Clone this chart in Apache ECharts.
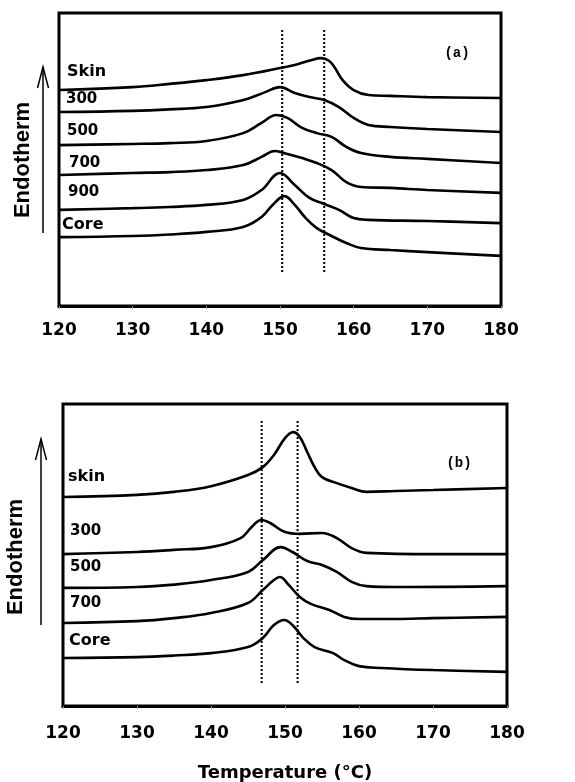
<!DOCTYPE html>
<html>
<head>
<meta charset="utf-8">
<script src="https://cdn.jsdelivr.net/npm/echarts@6/dist/echarts.min.js"></script>
<style>
  html, body { margin: 0; padding: 0; background: #fff; }
  #chart { width: 575px; height: 782px; }
</style>
</head>
<body>
<div id="chart"></div>
<script>
// DSC melting endotherms, skin-to-core profile (vertically offset, arbitrary heat-flow units)
const xTicks = [120, 130, 140, 150, 160, 170, 180];

// Panel (a)
const skinA = [[120,73.7],[130,74.7],[135,75.8],[140,77.1],[145,78.8],[150,81.2],[152.5,82.6],[154.2,83.9],[155.6,84.6],[156.6,83.8],[157.4,81.5],[158.5,77.1],[160,73.7],[162,72.0],[165,71.7],[170,71.3],[180,71.0]];
const a300  = [[120,66.2],[130,66.6],[135,67.1],[140,67.9],[145,70.3],[147,72.0],[148,73.0],[150,74.7],[152,72.7],[154,71.3],[156,70.3],[158,67.9],[160,64.2],[162,61.8],[165,61.1],[170,60.4],[180,59.4]];
const a500  = [[120,54.9],[130,55.3],[135,55.6],[140,56.3],[145,59.0],[147.5,62.5],[149.5,65.2],[151,64.2],[153,60.8],[155,59.0],[157,57.7],[159,54.3],[161,52.2],[165,50.9],[170,50.2],[180,48.8]];
const a700  = [[120,44.7],[130,45.4],[135,45.7],[140,46.4],[145,48.1],[147.5,50.9],[149.3,52.9],[151,51.9],[153,50.5],[155,48.8],[157,46.4],[159,42.3],[161,40.6],[165,40.3],[170,39.6],[180,38.6]];
const a900  = [[120,32.8],[130,33.4],[135,33.8],[140,34.5],[145,36.2],[147.5,39.6],[150,45.4],[152,41.3],[154,36.9],[156,34.8],[158,32.8],[160,30.0],[162,29.4],[170,29.0],[180,28.3]];
const coreA = [[120,23.5],[130,23.9],[135,24.4],[140,25.3],[145,27.0],[147.5,30.4],[149,34.5],[150.6,37.5],[152,34.5],[153.5,30.0],[155,26.6],[157,23.9],[159,21.5],[161,19.8],[165,19.1],[170,18.4],[180,17.1]];
const peaksA = [150.3, 156.0];

// Panel (b)
const skinB = [[120,69.2],[130,69.9],[135,70.9],[140,72.8],[145,76.5],[147,79.1],[148.5,83.1],[150,88.7],[151.1,90.7],[152,89.1],[153,84.1],[154,79.1],[155,75.8],[157,73.8],[159,72.2],[161,70.9],[165,71.2],[170,71.5],[180,72.2]];
const b300  = [[120,50.3],[130,51.0],[135,51.7],[140,52.6],[144,55.6],[145.5,59.3],[146.8,61.6],[148,60.6],[150,57.6],[152,57.0],[155,57.3],[157,55.6],[159,52.3],[161,50.7],[170,50.3],[180,50.3]];
const b500  = [[120,39.1],[130,39.4],[135,40.2],[140,41.7],[145,44.4],[147,48.3],[149.4,52.6],[151,51.0],[153,48.0],[155,46.7],[157,44.4],[159,41.1],[161,39.7],[165,39.4],[180,39.7]];
const b700  = [[120,27.5],[130,28.1],[135,29.1],[140,30.8],[145,34.1],[147,38.4],[148.5,41.7],[149.3,42.7],[150.5,40.1],[152,36.1],[153.5,33.8],[156,31.8],[158,29.5],[160,28.8],[165,28.8],[170,29.1],[180,29.5]];
const coreB = [[120,15.9],[130,16.2],[135,16.7],[140,17.5],[145,19.5],[147,22.5],[148.5,26.8],[149.9,28.5],[151,26.8],[152.5,22.5],[154,19.5],[156.5,17.5],[158,15.2],[160,13.2],[163,12.6],[170,11.9],[180,11.3]];
const peaksB = [146.85, 151.7];

// Extent of the dotted reference lines (same y units)
const guideA = [11.6, 94.5];
const guideB = [7.6, 94.7];

const labelsA = ['Skin', '300', '500', '700', '900', 'Core'];
const labelsB = ['skin', '300', '500', '700', 'Core'];

const curveStyle = { color: '#000', width: 2.6 };

function curve(data, idx) {
  return {
    type: 'line', xAxisIndex: idx, yAxisIndex: idx, data: data,
    smooth: 0.4, symbol: 'none', lineStyle: curveStyle, silent: true, z: 3
  };
}
function guide(x, range, idx) {
  return {
    type: 'line', xAxisIndex: idx, yAxisIndex: idx,
    data: [[x, range[0]], [x, range[1]]],
    symbol: 'none', silent: true, z: 2,
    lineStyle: { color: '#000', width: 2, type: [2, 2] }
  };
}
function xAxisFor(idx, margin) {
  return {
    type: 'value', gridIndex: idx, min: 120, max: 180, interval: 10,
    axisLine: { show: true, onZero: false, lineStyle: { color: '#000', width: 3 } },
    axisTick: { show: true, length: 3, lineStyle: { color: '#999', width: 1 } },
    splitLine: { show: false },
    axisLabel: {
      margin: margin, color: '#000', fontFamily: 'DejaVu Sans', fontWeight: 'bold', fontSize: 17,
      formatter: v => (xTicks.indexOf(v) >= 0 ? String(v) : '')
    }
  };
}
function yAxisFor(idx) {
  return { type: 'value', gridIndex: idx, min: 0, max: 100, show: false };
}

const labelFont = { fontFamily: 'DejaVu Sans', fontWeight: 'bold', fontSize: 15, fill: '#000' };
const posA = [[67,73],[66,101],[67,133],[69,165],[68,194],[62,226]];
const posB = [[68,478],[70,533],[70,569],[70,605],[69,642]];

const graphics = [];
labelsA.forEach((t, i) => graphics.push({
  type: 'text', left: posA[i][0], top: posA[i][1] - 9, z: 10,
  style: Object.assign({ text: t }, labelFont, { fontSize: t.length > 3 ? 16 : 15 })
}));
labelsB.forEach((t, i) => graphics.push({
  type: 'text', left: posB[i][0], top: posB[i][1] - 9, z: 10,
  style: Object.assign({ text: t }, labelFont, { fontSize: t.length > 3 ? 16 : 15 })
}));
graphics.push(
  { type: 'text', x: 457, y: 53, z: 10,
    style: { text: '(a)', fontFamily: 'Liberation Mono', fontWeight: 'bold', fontSize: 14, fill: '#000', align: 'center', verticalAlign: 'middle' } },
  { type: 'text', x: 459, y: 463, z: 10,
    style: { text: '(b)', fontFamily: 'Liberation Mono', fontWeight: 'bold', fontSize: 14, fill: '#000', align: 'center', verticalAlign: 'middle' } },
  // Endotherm labels with upward arrows
  { type: 'text', x: 23, y: 160, rotation: Math.PI / 2, z: 10,
    style: { text: 'Endotherm', fontFamily: 'Liberation Sans', fontWeight: 'bold', fontSize: 22, fill: '#000', align: 'center', verticalAlign: 'middle' } },
  { type: 'text', x: 16, y: 557, rotation: Math.PI / 2, z: 10,
    style: { text: 'Endotherm', fontFamily: 'Liberation Sans', fontWeight: 'bold', fontSize: 22, fill: '#000', align: 'center', verticalAlign: 'middle' } },
  { type: 'line', shape: { x1: 43, y1: 233, x2: 43, y2: 67 }, style: { stroke: '#000', lineWidth: 1.5 } },
  { type: 'polyline', shape: { points: [[37.5, 88], [43, 67], [48.5, 88]] }, style: { stroke: '#000', lineWidth: 1.5, fill: null } },
  { type: 'line', shape: { x1: 41, y1: 625, x2: 41, y2: 439 }, style: { stroke: '#000', lineWidth: 1.5 } },
  { type: 'polyline', shape: { points: [[35.5, 460], [41, 439], [46.5, 460]] }, style: { stroke: '#000', lineWidth: 1.5, fill: null } },
  { type: 'text', x: 285, y: 773, z: 10,
    style: { text: 'Temperature (°C)', fontFamily: 'DejaVu Sans', fontWeight: 'bold', fontSize: 18, fill: '#000', align: 'center', verticalAlign: 'middle' } }
);

const chart = echarts.init(document.getElementById('chart'), null, { renderer: 'canvas' });
chart.setOption({
  animation: false,
  backgroundColor: '#fff',
  grid: [
    { left: 59, top: 13, width: 442, height: 293, show: true, borderColor: '#000', borderWidth: 3, backgroundColor: 'transparent' },
    { left: 63, top: 404, width: 444, height: 302, show: true, borderColor: '#000', borderWidth: 3, backgroundColor: 'transparent' }
  ],
  xAxis: [xAxisFor(0, 16), xAxisFor(1, 19)],
  yAxis: [yAxisFor(0), yAxisFor(1)],
  series: [
    guide(peaksA[0], guideA, 0), guide(peaksA[1], guideA, 0),
    curve(skinA, 0), curve(a300, 0), curve(a500, 0), curve(a700, 0), curve(a900, 0), curve(coreA, 0),
    guide(peaksB[0], guideB, 1), guide(peaksB[1], guideB, 1),
    curve(skinB, 1), curve(b300, 1), curve(b500, 1), curve(b700, 1), curve(coreB, 1)
  ],
  graphic: graphics
});
</script>
</body>
</html>
